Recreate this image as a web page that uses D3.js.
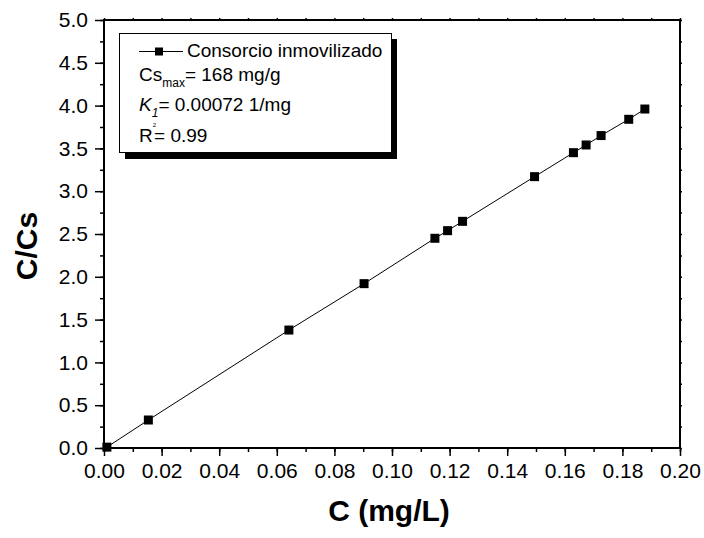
<!DOCTYPE html>
<html>
<head>
<meta charset="utf-8">
<script src="https://cdn.jsdelivr.net/npm/d3@7/dist/d3.min.js"></script>
<style>
  html, body { margin: 0; padding: 0; background: #fff; }
  svg { display: block; }
  text { font-family: "Liberation Sans", Arial, Helvetica, sans-serif; fill: #000; }
</style>
</head>
<body>
<svg id="chart" width="704" height="538"></svg>
<script>
// ---- data ----
const xValues = [0.001, 0.0154, 0.0642, 0.0903, 0.1149, 0.1193, 0.1245, 0.1495, 0.1630, 0.1674, 0.1726, 0.1822, 0.1878];
const yValues = [0.01, 0.327, 1.378, 1.92, 2.45, 2.539, 2.648, 3.17, 3.45, 3.54, 3.65, 3.84, 3.96];
const xTicks = [0, 0.02, 0.04, 0.06, 0.08, 0.10, 0.12, 0.14, 0.16, 0.18, 0.20];
const yTicks = [0, 0.5, 1.0, 1.5, 2.0, 2.5, 3.0, 3.5, 4.0, 4.5, 5.0];
const xMinor = d3.range(0, 21).map(i => i / 100);
const yMinor = d3.range(0, 21).map(i => i / 4);
const seriesName = "Consorcio inmovilizado";
const xTitle = "C (mg/L)";
const yTitle = "C/Cs";

// ---- layout ----
const pL = 104, pR = 680, pT = 20, pB = 448;
const svg = d3.select("#chart");
const x = d3.scaleLinear().domain([0, 0.20]).range([pL, pR]);
const y = d3.scaleLinear().domain([0, 5.0]).range([pB, pT]);

// bottom axis
const gx = svg.append("g").attr("transform", `translate(0,${pB})`)
  .call(d3.axisBottom(x).tickValues(xMinor).tickSize(4).tickFormat(""));
gx.selectAll(".tick line").attr("stroke-width", 1.5);
const gx2 = svg.append("g").attr("transform", `translate(0,${pB})`)
  .call(d3.axisBottom(x).tickValues(xTicks).tickSize(8).tickPadding(7).tickFormat(d3.format(".2f")));
gx2.selectAll(".tick line").attr("stroke-width", 1.5);
gx2.selectAll(".tick text").attr("font-size", 21).attr("font-family", "Liberation Sans, Arial, sans-serif");

// left axis
const gy = svg.append("g").attr("transform", `translate(${pL},0)`)
  .call(d3.axisLeft(y).tickValues(yMinor).tickSize(4).tickFormat(""));
gy.selectAll(".tick line").attr("stroke-width", 1.5);
const gy2 = svg.append("g").attr("transform", `translate(${pL},0)`)
  .call(d3.axisLeft(y).tickValues(yTicks).tickSize(9).tickPadding(7).tickFormat(d3.format(".1f")));
gy2.selectAll(".tick line").attr("stroke-width", 1.5);
gy2.selectAll(".tick text").attr("font-size", 21).attr("font-family", "Liberation Sans, Arial, sans-serif");

// top & right small ticks
const gt = svg.append("g").attr("transform", `translate(0,${pT})`)
  .call(d3.axisTop(x).tickValues(xMinor).tickSize(2).tickFormat(""));
gt.selectAll(".tick line").attr("stroke-width", 1.5);
const gr = svg.append("g").attr("transform", `translate(${pR},0)`)
  .call(d3.axisRight(y).tickValues(yMinor).tickSize(2).tickFormat(""));
gr.selectAll(".tick line").attr("stroke-width", 1.5);
svg.selectAll(".domain").remove();

// frame
svg.append("rect").attr("x", pL).attr("y", pT)
  .attr("width", pR - pL).attr("height", pB - pT)
  .attr("fill", "none").attr("stroke", "#000").attr("stroke-width", 2);

// series line
const pts = xValues.map((d, i) => [d, yValues[i]]);
svg.append("path").datum(pts)
  .attr("fill", "none").attr("stroke", "#000").attr("stroke-width", 1)
  .attr("d", d3.line().x(d => x(d[0])).y(d => y(d[1])));

const ms = 9;
svg.append("g").selectAll("rect").data(pts).join("rect")
  .attr("x", d => x(d[0]) - ms / 2).attr("y", d => y(d[1]) - ms / 2)
  .attr("width", ms).attr("height", ms).attr("fill", "#000");

// axis titles
svg.append("text").attr("x", 389).attr("y", 521).attr("text-anchor", "middle")
  .attr("font-size", 30).attr("font-weight", "bold").text(xTitle);
svg.append("text").attr("transform", "translate(37,246) rotate(-90)").attr("text-anchor", "middle")
  .attr("font-size", 30).attr("font-weight", "bold").text(yTitle);

// legend box with shadow
const lg = svg.append("g");
lg.append("rect").attr("x", 125).attr("y", 39).attr("width", 272).attr("height", 120).attr("fill", "#000");
lg.append("rect").attr("x", 119.5).attr("y", 33.5).attr("width", 272).attr("height", 119)
  .attr("fill", "#fff").attr("stroke", "#000").attr("stroke-width", 1);
lg.append("line").attr("x1", 139).attr("x2", 183).attr("y1", 51.5).attr("y2", 51.5)
  .attr("stroke", "#000").attr("stroke-width", 1);
lg.append("rect").attr("x", 159 - 4).attr("y", 51.5 - 4).attr("width", 8).attr("height", 8).attr("fill", "#000");
lg.append("text").attr("x", 187).attr("y", 57).attr("font-size", 19).text(seriesName);

const t1 = lg.append("text").attr("x", 139).attr("y", 81).attr("font-size", 19);
t1.append("tspan").text("Cs");
t1.append("tspan").attr("font-size", 12).attr("dy", 6).text("max");
t1.append("tspan").attr("dy", -6).text("= 168 mg/g");

const t2 = lg.append("text").attr("x", 139).attr("y", 111).attr("font-size", 19);
t2.append("tspan").attr("font-style", "italic").text("K");
t2.append("tspan").attr("font-style", "italic").attr("font-size", 12).attr("dy", 6).text("1");
t2.append("tspan").attr("dy", -6).text("= 0.00072 1/mg");

const t3 = lg.append("text").attr("x", 139).attr("y", 142).attr("font-size", 19);
t3.append("tspan").text("R");
t3.append("tspan").attr("font-size", 6).attr("dy", -15).text("2");
t3.append("tspan").attr("dy", 15).attr("dx", -2).text("= 0.99");
</script>
</body>
</html>
